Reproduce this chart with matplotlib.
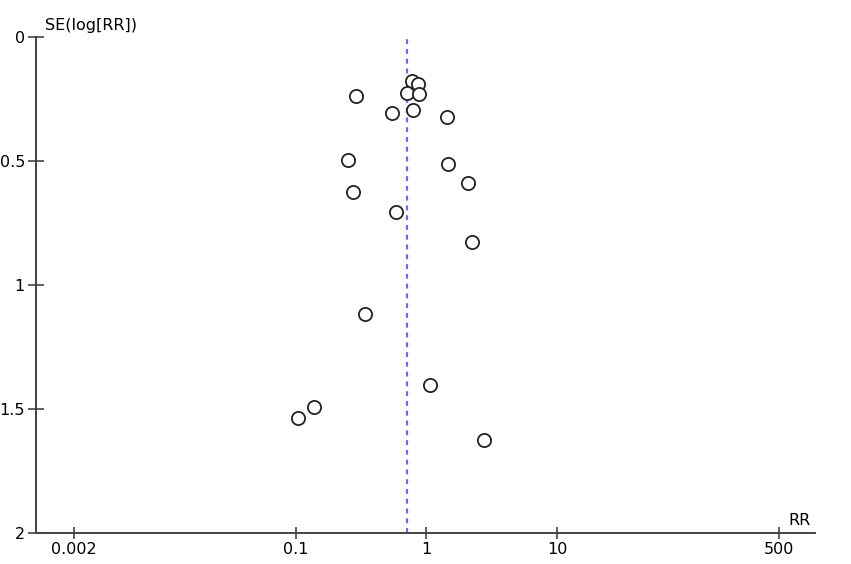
import numpy as np
import matplotlib
matplotlib.use("Agg")
import matplotlib.pyplot as plt

# risk ratios and their standard errors
rr = [0.288, 0.544, 0.773, 0.859, 0.716, 0.884, 0.795, 1.44, 0.253, 1.47,
      0.273, 2.10, 0.586, 2.25, 0.341, 1.07, 0.139, 0.104, 2.75]
se = [0.238, 0.305, 0.176, 0.190, 0.227, 0.231, 0.294, 0.324, 0.496, 0.512,
      0.625, 0.590, 0.704, 0.825, 1.117, 1.402, 1.493, 1.538, 1.624]
pooled_rr = 0.716

x_ticks = [0.002, 0.1, 1, 10, 500]
x_labels = ["0.002", "0.1", "1", "10", "500"]
y_ticks = [0, 0.5, 1, 1.5, 2]
y_labels = ["0", "0.5", "1", "1.5", "2"]

fig = plt.figure(figsize=(8.51, 5.64), dpi=100)
ax = fig.add_axes([36 / 851, 31 / 564, 779 / 851, 496 / 564])

ax.set_xscale("log")
ax.set_xlim(10 ** -2.986, 10 ** 2.974)
ax.set_ylim(2, 0)

# pooled estimate
ax.axvline(pooled_rr, color="#6a6aea", linestyle=(0, (2.2, 2.2)), linewidth=1.6)

ax.plot(rr, se, "o", ms=9.5, mfc="white", mec="#222222", mew=1.3, ls="none")

for s in ["top", "right"]:
    ax.spines[s].set_visible(False)
for s in ["left", "bottom"]:
    ax.spines[s].set_linewidth(1.4)
    ax.spines[s].set_color("#444444")

ax.set_xticks(x_ticks)
ax.set_xticklabels(x_labels)
ax.xaxis.set_minor_locator(matplotlib.ticker.NullLocator())
ax.set_yticks(y_ticks)
ax.set_yticklabels(y_labels)
ax.tick_params(axis="x", direction="inout", length=9, width=1.2, color="#444444",
               labelsize=11.5, pad=2)
ax.tick_params(axis="y", direction="inout", length=12, width=1.2, color="#444444",
               labelsize=11.5, pad=2)

ax.text(0.011, 1.008, "SE(log[RR])", transform=ax.transAxes, fontsize=11.5,
        ha="left", va="bottom")
ax.text(0.995, 0.01, "RR", transform=ax.transAxes, fontsize=11.5,
        ha="right", va="bottom")

fig.savefig("out.png", dpi=100)
